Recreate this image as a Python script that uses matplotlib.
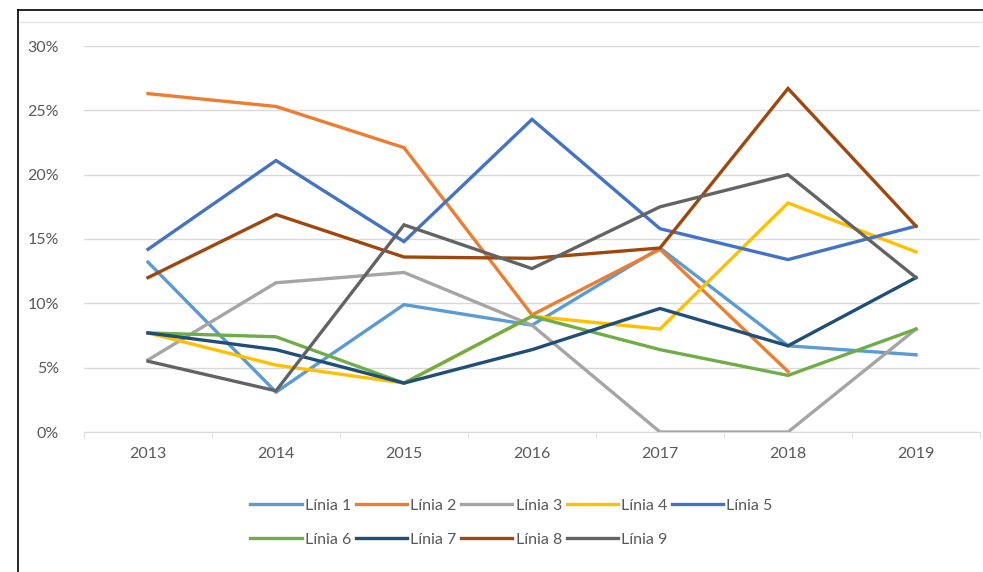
import numpy as np
import matplotlib.pyplot as plt
from matplotlib.lines import Line2D
from matplotlib.ticker import PercentFormatter

plt.rcParams['font.family'] = ['Lato', 'DejaVu Sans']

years = ['2013', '2014', '2015', '2016', '2017', '2018', '2019']
linia1 = [13.2, 3.1, 9.9, 8.3, 14.3, 6.7, 6.0]
linia2 = [26.3, 25.3, 22.1, 9.1, 14.2, 4.7, np.nan]
linia3 = [5.6, 11.6, 12.4, 8.3, 0.0, 0.0, 8.0]
linia4 = [7.7, 5.2, 3.8, 9.0, 8.0, 17.8, 14.0]
linia5 = [14.2, 21.1, 14.8, 24.3, 15.8, 13.4, 16.0]
linia6 = [7.7, 7.4, 3.8, 9.0, 6.4, 4.4, 8.0]
linia7 = [7.7, 6.4, 3.8, 6.4, 9.6, 6.7, 12.0]
linia8 = [12.0, 16.9, 13.6, 13.5, 14.3, 26.7, 16.0]
linia9 = [5.5, 3.2, 16.1, 12.7, 17.5, 20.0, 12.0]

series = [linia1, linia2, linia3, linia4, linia5, linia6, linia7, linia8, linia9]
names = ['Línia %d' % (i + 1) for i in range(9)]
colors = ['#5B9BD5', '#ED7D31', '#A5A5A5', '#FFC000', '#4472C4',
          '#70AD47', '#1F4E79', '#9E480E', '#636363']

W, H = 983, 572
fig = plt.figure(figsize=(W / 100, H / 100), dpi=100)
ax = fig.add_axes([84 / W, (H - 432) / H, (980 - 84) / W, (432 - 46) / H])

x = np.arange(len(years))
handles = []
for vals, name, c in zip(series, names, colors):
    h, = ax.plot(x, vals, color=c, lw=2.4, label=name, solid_joinstyle='miter')
    handles.append(h)

ax.set_xlim(-0.5, len(years) - 0.5)
ax.set_ylim(0, 30)
ax.set_yticks(np.arange(0, 31, 5))
ax.yaxis.set_major_formatter(PercentFormatter(decimals=0))
ax.set_xticks(x)
ax.set_xticklabels(years)
ax.set_xticks(np.arange(-0.5, len(years), 1), minor=True)
ax.grid(axis='y', color='#D9D9D9', lw=1)
ax.set_axisbelow(True)
for s in ['top', 'right', 'left']:
    ax.spines[s].set_visible(False)
ax.spines['bottom'].set_color('#D9D9D9')
ax.tick_params(axis='both', which='major', length=0, labelsize=11.5,
               labelcolor='#595959', pad=11)
ax.tick_params(axis='y', pad=18)
ax.tick_params(axis='x', which='minor', length=4, color='#D9D9D9')

order = [0, 5, 1, 6, 2, 7, 3, 8, 4]
fig.legend([handles[i] for i in order], [names[i] for i in order],
           ncol=5, loc='upper left', bbox_to_anchor=(244 / W, 1 - 492 / H),
           frameon=False, fontsize=11.5, labelcolor='#595959',
           handlelength=3.2, handletextpad=0.2, columnspacing=0.3,
           labelspacing=1.25, borderaxespad=0)

# outer frame of the scanned chart
fig.add_artist(Line2D([18 / W, 1], [1 - 10 / H, 1 - 10 / H], color='black', lw=1.2))
fig.add_artist(Line2D([18 / W, 18 / W], [0, 1 - 10 / H], color='black', lw=1.2))
fig.add_artist(Line2D([20 / W, 1], [1 - 22 / H, 1 - 22 / H], color='#E6E6E6', lw=1))

fig.savefig('out.png', dpi=100)
